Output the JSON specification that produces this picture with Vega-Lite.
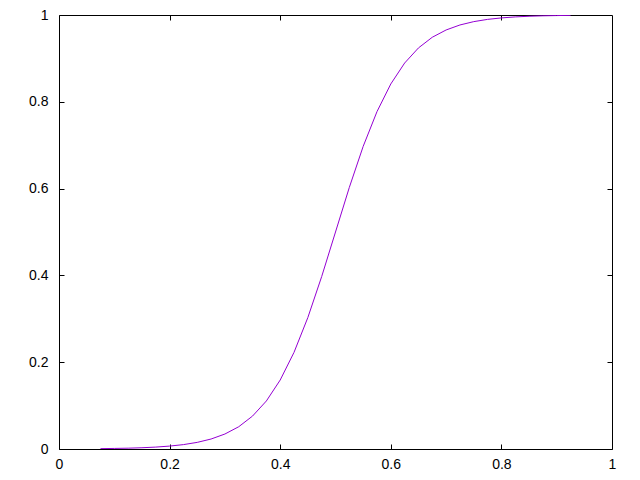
{
  "$schema": "https://vega.github.io/schema/vega-lite/v6.json",
  "width": 553,
  "height": 434,
  "autosize": {"type": "none"},
  "padding": {"left": 59, "top": 15, "right": 28, "bottom": 31},
  "background": "#ffffff",
  "config": {
    "view": {"stroke": "#000000", "strokeWidth": 1},
    "axis": {
      "domain": false,
      "grid": false,
      "ticks": true,
      "tickColor": "#000000",
      "tickSize": -5,
      "tickWidth": 1,
      "labelFont": "Liberation Sans",
      "labelFontSize": 14,
      "labelColor": "#000000",
      "format": "~g",
      "title": null
    }
  },
  "data": {
    "values": [
      {"x": 0.075, "y": 0.0008},
      {"x": 0.1, "y": 0.0013},
      {"x": 0.125, "y": 0.0019},
      {"x": 0.15, "y": 0.0029},
      {"x": 0.175, "y": 0.0044},
      {"x": 0.2, "y": 0.0067},
      {"x": 0.225, "y": 0.0101},
      {"x": 0.25, "y": 0.0153},
      {"x": 0.275, "y": 0.023},
      {"x": 0.3, "y": 0.0345},
      {"x": 0.325, "y": 0.0513},
      {"x": 0.35, "y": 0.0759},
      {"x": 0.375, "y": 0.1107},
      {"x": 0.4, "y": 0.1589},
      {"x": 0.425, "y": 0.2227},
      {"x": 0.45, "y": 0.3029},
      {"x": 0.475, "y": 0.3973},
      {"x": 0.5, "y": 0.5},
      {"x": 0.525, "y": 0.6027},
      {"x": 0.55, "y": 0.6971},
      {"x": 0.575, "y": 0.7773},
      {"x": 0.6, "y": 0.8411},
      {"x": 0.625, "y": 0.8893},
      {"x": 0.65, "y": 0.9241},
      {"x": 0.675, "y": 0.9487},
      {"x": 0.7, "y": 0.9655},
      {"x": 0.725, "y": 0.977},
      {"x": 0.75, "y": 0.9847},
      {"x": 0.775, "y": 0.9899},
      {"x": 0.8, "y": 0.9933},
      {"x": 0.825, "y": 0.9956},
      {"x": 0.85, "y": 0.9971},
      {"x": 0.875, "y": 0.9981},
      {"x": 0.9, "y": 0.9987},
      {"x": 0.925, "y": 0.9992}
    ]
  },
  "layer": [
    {
      "mark": {"type": "line", "color": "#9400D3", "strokeWidth": 1, "clip": true},
      "encoding": {
        "x": {"field": "x", "type": "quantitative", "scale": {"domain": [0, 1], "nice": false, "zero": false},
              "axis": {"orient": "bottom", "values": [0, 0.2, 0.4, 0.6, 0.8, 1], "labelPadding": 13, "labelFlush": false}},
        "y": {"field": "y", "type": "quantitative", "scale": {"domain": [0, 1], "nice": false, "zero": false},
              "axis": {"orient": "left", "values": [0, 0.2, 0.4, 0.6, 0.8, 1], "labelPadding": 16, "labelFlush": false}}
      }
    },
    {
      "mark": {"type": "line", "opacity": 0, "strokeWidth": 0},
      "encoding": {
        "x": {"field": "x", "type": "quantitative", "scale": {"domain": [0, 1], "nice": false, "zero": false},
              "axis": {"orient": "top", "values": [0.2, 0.4, 0.6, 0.8], "labels": false}},
        "y": {"field": "y", "type": "quantitative", "scale": {"domain": [0, 1], "nice": false, "zero": false},
              "axis": {"orient": "right", "values": [0.2, 0.4, 0.6, 0.8], "labels": false}}
      }
    }
  ],
  "resolve": {"axis": {"x": "independent", "y": "independent"}}
}
